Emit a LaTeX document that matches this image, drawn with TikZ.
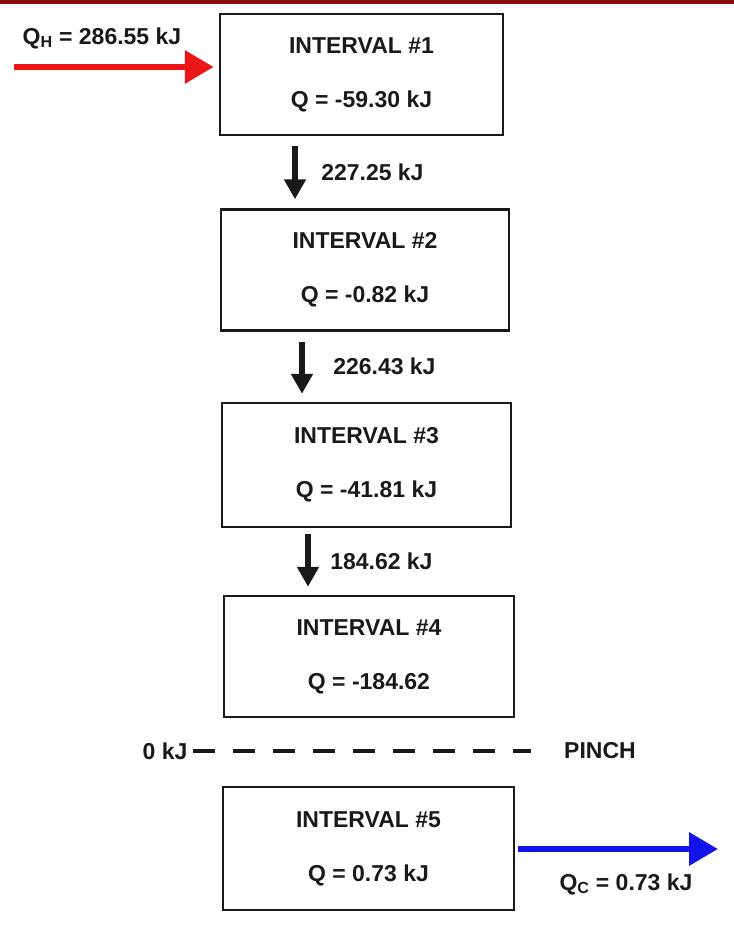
\documentclass[tikz,border=0pt]{standalone}
\usepackage{fontspec}
\setmainfont{Liberation Sans}
\usepackage{xcolor}
\usepackage{tikz}
\usetikzlibrary{arrows.meta,calc,positioning}
\definecolor{barred}{RGB}{140,12,12}
\definecolor{hotred}{RGB}{235,22,22}
\definecolor{coldblue}{RGB}{18,18,235}
\definecolor{inkgray}{RGB}{25,25,25}

\begin{document}
\begin{tikzpicture}[x=1pt,y=-1pt,font=\fontsize{23}{27}\selectfont\bfseries,
  intbox/.style={draw=inkgray,line width=2.5pt,align=center,minimum height=121pt,inner sep=0pt,text=inkgray},
  flow/.style={inkgray,line width=6.5pt,-{Triangle[length=20pt,width=21pt]}},
  heat/.style={line width=6.5pt,-{Triangle[length=29pt,width=32pt]}},
  lbl/.style={inner sep=2pt,text=inkgray}]
  \useasboundingbox (0,0) rectangle (734,927);
  \fill[barred] (0,0) rectangle (734,4);

  \node[intbox,minimum width=283pt] (b1) at (361.5,74.5) {INTERVAL \#1\\[27pt]Q = -59.30 kJ};
  \node[intbox,minimum width=288pt] (b2) at (365,270) {INTERVAL \#2\\[27pt]Q = -0.82 kJ};
  \node[intbox,minimum width=289pt,minimum height=124pt] (b3) at (366.5,465) {INTERVAL \#3\\[27pt]Q = -41.81 kJ};
  \node[intbox,minimum width=290pt] (b4) at (369,656.5) {INTERVAL \#4\\[27pt]Q = -184.62};
  \node[intbox,minimum width=291pt,minimum height=123pt] (b5) at (368.5,848.5) {INTERVAL \#5\\[27pt]Q = 0.73 kJ};

  \draw[flow,shorten <=10pt,shorten >=9pt] ([xshift=-66.5pt]b1.south) -- ([xshift=-66.5pt]b1.south |- b2.north)
    node[lbl,midway,right=21pt] {227.25 kJ};
  \draw[flow,shorten <=10pt,shorten >=8pt] ([xshift=-63pt]b2.south) -- ([xshift=-63pt]b2.south |- b3.north)
    node[lbl,midway,right=26pt] {226.43 kJ};
  \draw[flow,shorten <=6pt,shorten >=8pt] ([xshift=-58.5pt]b3.south) -- ([xshift=-58.5pt]b3.south |- b4.north)
    node[lbl,midway,right=17pt] {184.62 kJ};

  \node[lbl] (qh) at (102,38) {Q\textsubscript{H} = 286.55 kJ};
  \coordinate (hin) at (14,67);
  \draw[heat,hotred,shorten >=5pt] (hin) -- (hin -| b1.west);

  \node[lbl] (zero) at (165,751) {0 kJ};
  \node[lbl] (pinch) at (600,751) {PINCH};
  \draw[inkgray,line width=4pt,dash pattern=on 22pt off 18pt,shorten <=3pt,shorten >=31pt] (zero) -- (pinch);

  \coordinate (cout) at (718,849);
  \draw[heat,coldblue,shorten <=3pt] (b5.east |- cout) -- (cout);
  \node[lbl] (qc) at (626,884) {Q\textsubscript{C} = 0.73 kJ};
\end{tikzpicture}
\end{document}
